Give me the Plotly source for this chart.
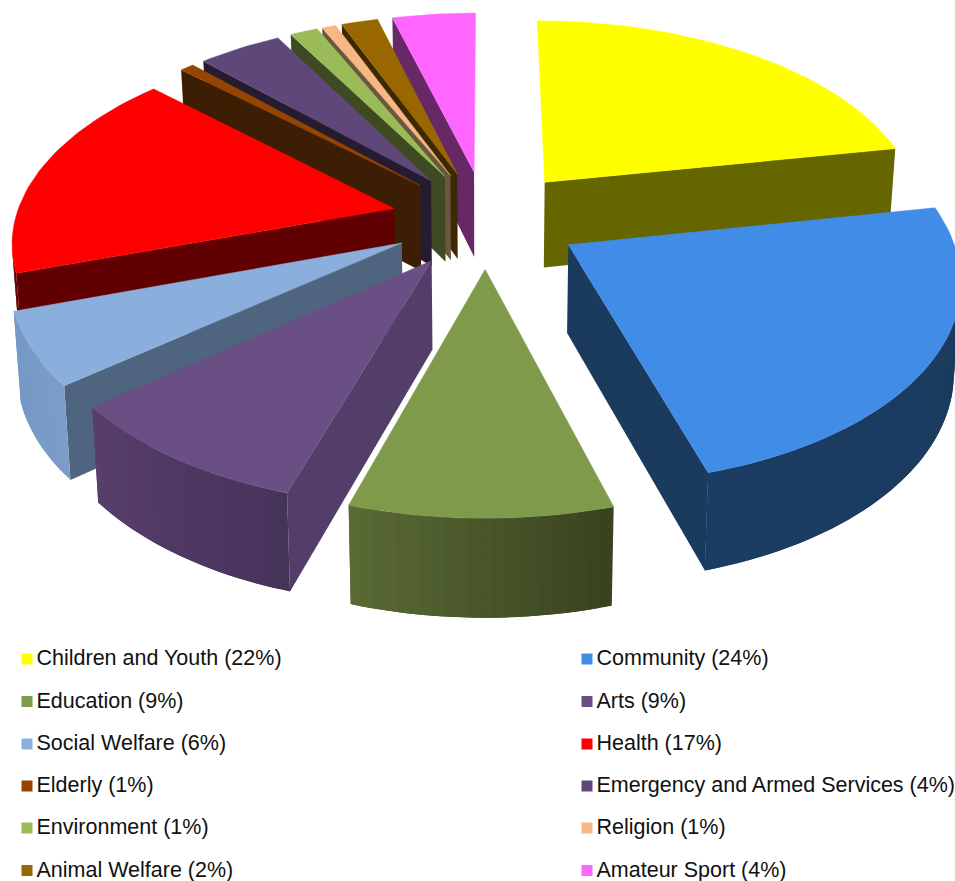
import math
import plotly.graph_objects as go

categories = ["Children and Youth", "Community", "Education", "Arts", "Social Welfare", "Health",
              "Elderly", "Emergency and Armed Services", "Environment", "Religion", "Animal Welfare", "Amateur Sport"]
values = [22.0, 23.5, 9.28, 9.22, 5.8, 17.2, 0.7, 4.2, 1.4, 0.7, 1.83, 4.17]
top_colors = ["#FFFF00", "#418CE6", "#7F9A4A", "#694F83", "#8AAFDC", "#FF0000",
              "#964500", "#5F4879", "#9BBB59", "#F5B783", "#996600", "#FF66FF"]
edge_colors = ["#666600", "#1A3A5E", "#4A5A2C", "#523E68", "#4F657F", "#600000",
               "#3C1E05", "#251C30", "#3E4A22", "#6B5640", "#3D2900", "#662966"]
rim_right = ["#666600", "#1A395C", "#38421E", "#46335A", "#7B9DC8", "#600000",
             "#3C1E05", "#251C30", "#3E4A22", "#6B5640", "#3D2900", "#662966"]
rim_left = ["#666600", "#1C3D63", "#5A6B35", "#583F6B", "#7498C5", "#600000",
            "#3C1E05", "#251C30", "#3E4A22", "#6B5640", "#3D2900", "#662966"]

EXPLODE = 0.25
CX, CY, F, G, D = 486.0, 218.8, 2560.0, 1320.0, 6.76
H, DZ, SHRINK = 87.0, 10.0, 0.985


def top(X, Y):
    return CX + F * X / (D + Y), CY - G * Y / (D + Y)


def bottom(X, Y):
    sx, sy = top(X, Y)
    return CX + (sx - CX) * SHRINK, sy + H * DZ / (DZ + Y)


def lerp_hex(a, b, t):
    ca = [int(a[i:i + 2], 16) for i in (1, 3, 5)]
    cb = [int(b[i:i + 2], 16) for i in (1, 3, 5)]
    return "#" + "".join(f"{round(p + (q - p) * t):02X}" for p, q in zip(ca, cb))


def area(pts):
    s = 0.0
    for (x1, y1), (x2, y2) in zip(pts, pts[1:] + pts[:1]):
        s += x1 * y2 - x2 * y1
    return s / 2


def poly(pts, color):
    return go.Scatter(x=[p[0] for p in pts] + [pts[0][0]], y=[p[1] for p in pts] + [pts[0][1]],
                      mode="lines", fill="toself", fillcolor=color,
                      line=dict(color=color, width=0.5), hoverinfo="skip", showlegend=False)


def band(points, color):
    """Filled wall under a run of top-surface points, without an outline."""
    pts = [top(*p) for p in points] + [bottom(*p) for p in reversed(points)]
    return go.Scatter(x=[p[0] for p in pts] + [pts[0][0]], y=[p[1] for p in pts] + [pts[0][1]],
                      mode="none", fill="toself", fillcolor=color, hoverinfo="skip", showlegend=False)


total = sum(values)
slices = []
cum = 0.0
for i, v in enumerate(values):
    a0 = cum / total * 2 * math.pi
    cum += v
    a1 = cum / total * 2 * math.pi
    mid = (a0 + a1) / 2
    tx, ty = EXPLODE * math.sin(mid), EXPLODE * math.cos(mid)
    slices.append((ty, i, a0, a1, tx))

fig = go.Figure()
for ty, i, a0, a1, tx in sorted(slices, key=lambda s: -s[0]):
    n = max(2, int(math.degrees(a1 - a0) / 1.5))
    arc = [(tx + math.sin(a0 + (a1 - a0) * k / n), ty + math.cos(a0 + (a1 - a0) * k / n)) for k in range(n + 1)]
    tip = (tx, ty)

    def visible(p, q):
        return area([top(*p), top(*q), bottom(*q), bottom(*p)]) < 0

    # edges pointing straight away from the viewer are seen edge-on
    if visible(tip, arc[0]) and math.cos(a0) < 0.995:
        fig.add_trace(band([tip, arc[0]], edge_colors[i]))
    if visible(arc[-1], tip) and math.cos(a1) < 0.995:
        fig.add_trace(band([arc[-1], tip], edge_colors[i]))
    # rim bands overlap the next one so no seam shows; arc[k] -> arc[k+1] runs right to left on screen
    for k in range(n):
        if visible(arc[k], arc[k + 1]):
            t = 1 - (k + 0.5) / n
            fig.add_trace(band(arc[k:k + 3], lerp_hex(rim_left[i], rim_right[i], t)))
    fig.add_trace(poly([top(*tip)] + [top(*p) for p in arc], top_colors[i]))

rows = [659, 701.5, 744, 786, 828, 870.5]
for i, (name, v) in enumerate(zip(categories, values)):
    col = i % 2
    y = rows[i // 2]
    xm = 27 if col == 0 else 587
    fig.add_trace(go.Scatter(x=[xm], y=[y], mode="markers",
                             marker=dict(symbol="square", size=11, color=top_colors[i], line=dict(width=0)),
                             hoverinfo="skip", showlegend=False))
    fig.add_trace(go.Scatter(x=[xm + 9.5], y=[y + 1], mode="text", text=[f"{name} ({v:.0f}%)"],
                             textposition="middle right", cliponaxis=False,
                             textfont=dict(family="Liberation Sans", size=21.5, color="#111111"),
                             hoverinfo="skip", showlegend=False))

fig.update_layout(width=955, height=881, margin=dict(l=0, r=0, t=0, b=0),
                  paper_bgcolor="white", plot_bgcolor="white", showlegend=False,
                  xaxis=dict(range=[0, 955], visible=False, fixedrange=True),
                  yaxis=dict(range=[881, 0], visible=False, fixedrange=True))
fig.write_html("out.html", config={"displayModeBar": False},
               post_script="document.body.style.margin='0';document.documentElement.style.overflow='hidden';")
